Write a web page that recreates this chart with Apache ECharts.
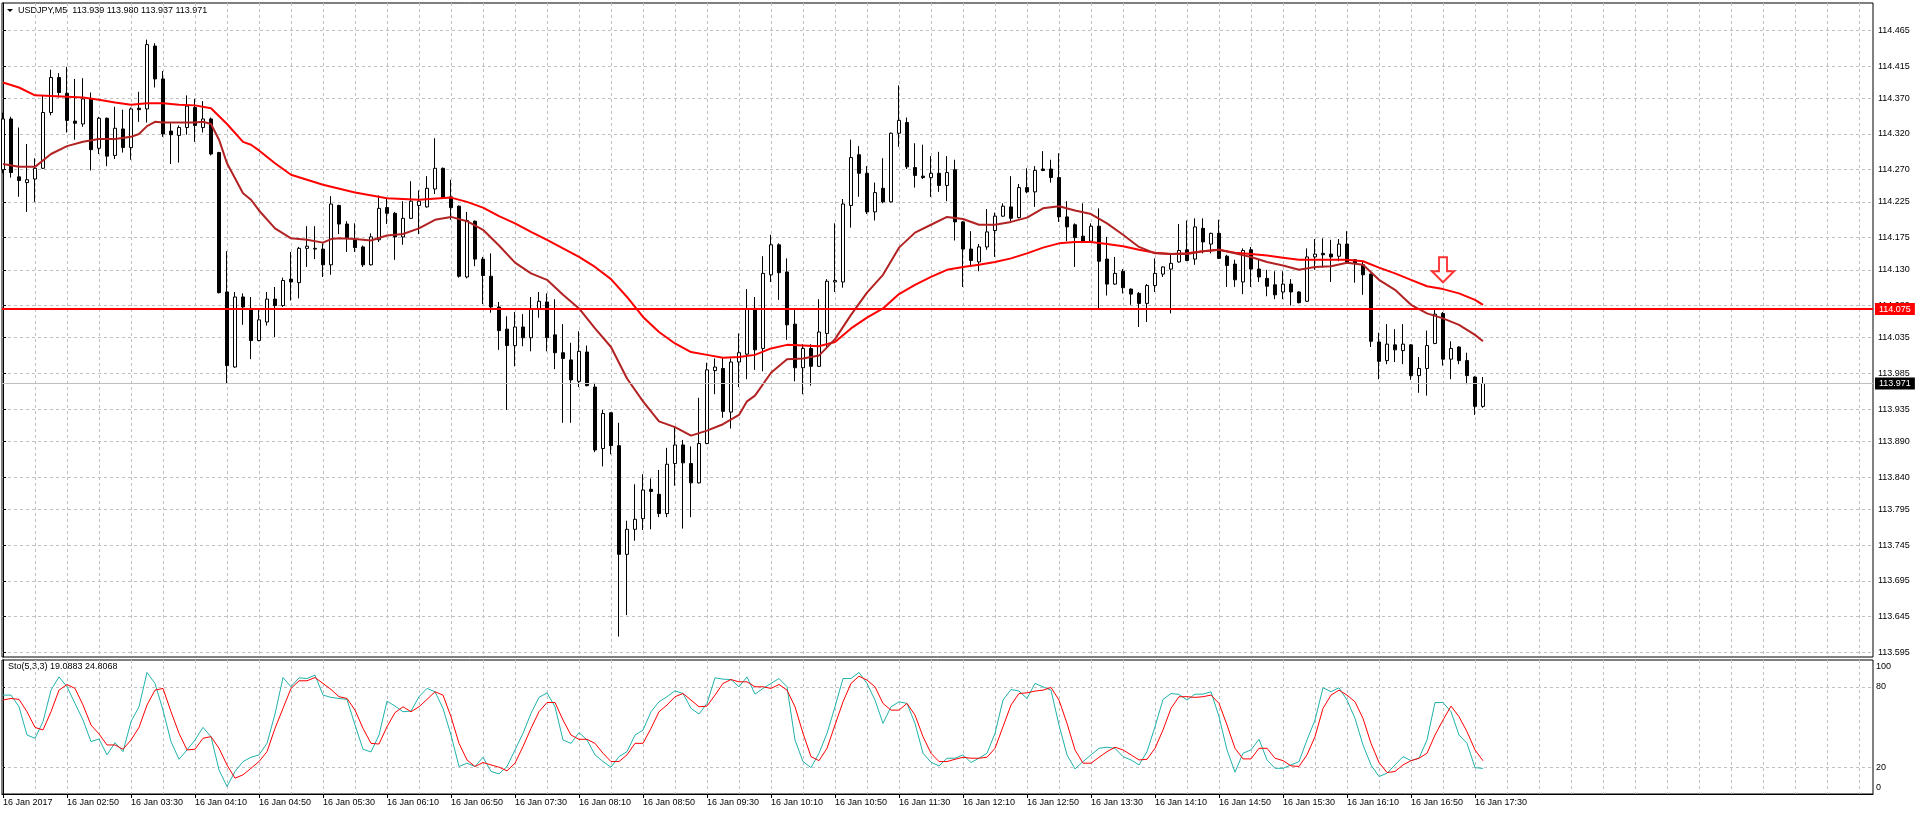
<!DOCTYPE html>
<html>
<head>
<meta charset="utf-8">
<title>USDJPY,M5</title>
<script src="https://cdn.jsdelivr.net/npm/echarts@6/dist/echarts.min.js"></script>
<style>
  html, body { margin: 0; padding: 0; background: #fff; }
  #chart { width: 1916px; height: 815px; }
</style>
</head>
<body>
<div id="chart"></div>
<script>
// bar 0 = 16 Jan 02:10, one bar every 5 minutes (M5)
const openData = [
  114.270, 114.341, 114.260, 114.252, 114.257, 114.272, 114.350, 114.399, 114.377, 114.338,
  114.334, 114.369, 114.300, 114.342, 114.290, 114.327, 114.301, 114.356, 114.355, 114.443,
  114.397, 114.324, 114.318, 114.329, 114.357, 114.329, 114.341, 114.294, 114.099, 113.994,
  114.092, 114.076, 114.031, 114.057, 114.089, 114.080, 114.117, 114.112, 114.160, 114.159,
  114.159, 114.137, 114.220, 114.194, 114.172, 114.162, 114.137, 114.172, 114.217, 114.209,
  114.176, 114.202, 114.220, 114.218, 114.243, 114.272, 114.232, 114.219, 114.120, 114.198,
  114.145, 114.121, 114.078, 114.047, 114.024, 114.050, 114.035, 114.075, 114.085, 114.039,
  114.014, 114.004, 113.974, 114.015, 113.966, 113.880, 113.930, 113.884, 113.732, 113.767,
  113.782, 113.823, 113.816, 113.789, 113.859, 113.885, 113.859, 113.832, 113.887, 113.989,
  113.992, 113.931, 114.001, 114.012, 114.076, 114.020, 114.123, 114.165, 114.127, 114.054,
  113.993, 114.020, 113.995, 114.041, 114.113, 114.113, 114.220, 114.291, 114.265, 114.211,
  114.244, 114.225, 114.321, 114.336, 114.273, 114.261, 114.259, 114.265, 114.248, 114.270,
  114.197, 114.159, 114.141, 114.162, 114.185, 114.205, 114.218, 114.203, 114.245, 114.239,
  114.271, 114.271, 114.259, 114.204, 114.193, 114.177, 114.170, 114.191, 114.145, 114.110,
  114.128, 114.103, 114.097, 114.083, 114.108, 114.124, 114.131, 114.141, 114.158, 114.145,
  114.188, 114.166, 114.181, 114.149, 114.138, 114.113, 114.158, 114.131, 114.118, 114.109,
  114.099, 114.110, 114.099, 114.086, 114.148, 114.153, 114.152, 114.149, 114.166, 114.144,
  114.137, 114.124, 114.029, 114.003, 114.025, 114.017, 114.025, 113.982, 113.992, 114.027,
  114.069, 114.005, 114.022, 114.003, 113.980, 113.939
]
const highData = [
  114.350, 114.344, 114.329, 114.306, 114.286, 114.373, 114.410, 114.405, 114.414, 114.397,
  114.398, 114.378, 114.344, 114.343, 114.358, 114.354, 114.357, 114.379, 114.452, 114.447,
  114.408, 114.335, 114.332, 114.374, 114.369, 114.366, 114.343, 114.295, 114.156, 114.099,
  114.097, 114.092, 114.074, 114.099, 114.106, 114.119, 114.155, 114.162, 114.191, 114.191,
  114.167, 114.233, 114.221, 114.198, 114.195, 114.164, 114.181, 114.234, 114.230, 114.211,
  114.226, 114.254, 114.241, 114.261, 114.314, 114.273, 114.256, 114.220, 114.211, 114.199,
  114.148, 114.153, 114.085, 114.065, 114.071, 114.068, 114.092, 114.099, 114.097, 114.089,
  114.054, 114.028, 114.044, 114.024, 113.972, 113.934, 113.931, 113.916, 113.779, 113.830,
  113.844, 113.838, 113.850, 113.881, 113.911, 113.892, 113.883, 113.951, 114.000, 114.006,
  114.008, 114.006, 114.041, 114.103, 114.092, 114.149, 114.179, 114.167, 114.146, 114.074,
  114.026, 114.026, 114.089, 114.117, 114.195, 114.229, 114.312, 114.303, 114.275, 114.252,
  114.286, 114.322, 114.388, 114.343, 114.307, 114.305, 114.289, 114.295, 114.289, 114.284,
  114.198, 114.184, 114.166, 114.215, 114.210, 114.223, 114.261, 114.250, 114.272, 114.275,
  114.296, 114.284, 114.293, 114.226, 114.195, 114.223, 114.195, 114.216, 114.176, 114.148,
  114.131, 114.104, 114.099, 114.110, 114.146, 114.135, 114.153, 114.194, 114.199, 114.202,
  114.202, 114.182, 114.200, 114.151, 114.144, 114.160, 114.162, 114.145, 114.130, 114.128,
  114.128, 114.117, 114.100, 114.160, 114.173, 114.174, 114.172, 114.173, 114.184, 114.145,
  114.141, 114.125, 114.042, 114.054, 114.047, 114.054, 114.026, 114.008, 114.045, 114.076,
  114.071, 114.030, 114.023, 114.014, 113.981, 113.980
]
const lowData = [
  114.265, 114.259, 114.232, 114.211, 114.225, 114.271, 114.346, 114.371, 114.322, 114.312,
  114.330, 114.269, 114.292, 114.275, 114.285, 114.294, 114.284, 114.337, 114.336, 114.385,
  114.316, 114.278, 114.280, 114.319, 114.309, 114.322, 114.290, 114.097, 113.971, 113.993,
  114.053, 114.005, 114.030, 114.052, 114.036, 114.078, 114.087, 114.090, 114.134, 114.145,
  114.120, 114.123, 114.180, 114.155, 114.155, 114.134, 114.136, 114.169, 114.194, 114.144,
  114.165, 114.201, 114.180, 114.217, 114.236, 114.231, 114.200, 114.119, 114.118, 114.135,
  114.082, 114.070, 114.018, 113.934, 113.995, 114.023, 114.016, 114.063, 114.016, 113.991,
  113.916, 113.916, 113.966, 113.967, 113.875, 113.855, 113.872, 113.617, 113.647, 113.751,
  113.766, 113.767, 113.784, 113.784, 113.828, 113.768, 113.784, 113.831, 113.886, 113.956,
  113.923, 113.908, 113.966, 113.977, 113.990, 113.988, 114.113, 114.088, 114.032, 113.974,
  113.956, 113.968, 113.994, 114.020, 114.099, 114.105, 114.189, 114.232, 114.208, 114.199,
  114.223, 114.224, 114.302, 114.271, 114.245, 114.257, 114.232, 114.239, 114.226, 114.171,
  114.106, 114.134, 114.128, 114.158, 114.148, 114.204, 114.198, 114.202, 114.237, 114.218,
  114.268, 114.252, 114.197, 114.170, 114.134, 114.169, 114.169, 114.075, 114.094, 114.109,
  114.097, 114.081, 114.050, 114.057, 114.099, 114.120, 114.069, 114.140, 114.142, 114.137,
  114.153, 114.153, 114.145, 114.106, 114.106, 114.096, 114.106, 114.113, 114.093, 114.089,
  114.089, 114.080, 114.083, 114.085, 114.130, 114.133, 114.113, 114.142, 114.139, 114.112,
  114.095, 114.022, 113.977, 113.998, 114.001, 113.998, 113.976, 113.958, 113.954, 114.026,
  113.996, 113.977, 113.998, 113.970, 113.927, 113.937
]
const closeData = [
  114.341, 114.266, 114.255, 114.256, 114.272, 114.350, 114.399, 114.378, 114.339, 114.335,
  114.369, 114.298, 114.342, 114.289, 114.328, 114.301, 114.355, 114.354, 114.445, 114.397,
  114.320, 114.319, 114.329, 114.359, 114.332, 114.341, 114.292, 114.098, 113.996, 114.092,
  114.078, 114.031, 114.060, 114.089, 114.080, 114.115, 114.113, 114.160, 114.163, 114.160,
  114.137, 114.222, 114.194, 114.175, 114.161, 114.137, 114.176, 114.216, 114.209, 114.176,
  114.202, 114.226, 114.226, 114.244, 114.272, 114.231, 114.217, 114.121, 114.199, 114.145,
  114.122, 114.078, 114.045, 114.024, 114.050, 114.035, 114.076, 114.086, 114.035, 114.014,
  114.006, 113.976, 114.016, 113.968, 113.878, 113.929, 113.884, 113.732, 113.767, 113.781,
  113.822, 113.820, 113.789, 113.858, 113.885, 113.860, 113.832, 113.887, 113.990, 113.994,
  113.932, 114.001, 114.014, 114.075, 114.018, 114.125, 114.165, 114.126, 114.053, 113.993,
  114.020, 113.995, 114.043, 114.114, 114.115, 114.222, 114.287, 114.265, 114.211, 114.238,
  114.225, 114.321, 114.339, 114.274, 114.262, 114.259, 114.265, 114.248, 114.266, 114.197,
  114.159, 114.143, 114.162, 114.183, 114.205, 114.219, 114.202, 114.245, 114.239, 114.269,
  114.269, 114.259, 114.204, 114.190, 114.175, 114.170, 114.191, 114.142, 114.110, 114.125,
  114.105, 114.096, 114.083, 114.108, 114.125, 114.134, 114.139, 114.157, 114.143, 114.190,
  114.169, 114.181, 114.146, 114.136, 114.116, 114.157, 114.131, 114.120, 114.107, 114.095,
  114.110, 114.099, 114.084, 114.148, 114.152, 114.151, 114.148, 114.166, 114.141, 114.139,
  114.123, 114.030, 114.002, 114.026, 114.018, 114.026, 113.982, 113.992, 114.024, 114.068,
  114.005, 114.020, 114.003, 113.982, 113.939, 113.971
]

// moving averages at these bar indexes
const slowMaIdx = [
  0, 2, 4, 6, 8, 10, 12, 14, 16, 18, 20, 22, 24, 26, 28, 30, 31, 32, 34, 36, 40, 44, 48, 52, 56,
  58, 60, 62, 64, 66, 68, 70, 72, 74, 76, 78, 80, 82, 84, 86, 88, 90, 92, 94, 96, 98, 100, 102,
  104, 106, 108, 110, 112, 114, 116, 118, 120, 122, 124, 126, 128, 130, 132, 134, 136, 138, 140,
  142, 144, 146, 148, 150, 152, 154, 156, 158, 160, 162, 164, 166, 168, 170, 172, 174, 176, 178,
  180, 182, 184, 185
]
const slowMa = [
  114.392, 114.385, 114.374, 114.373, 114.372, 114.371, 114.368, 114.364, 114.361, 114.363,
  114.363, 114.361, 114.360, 114.356, 114.334, 114.309, 114.305, 114.297, 114.279, 114.263,
  114.249, 114.238, 114.230, 114.228, 114.231,
  114.225, 114.217, 114.205, 114.195, 114.183, 114.172, 114.160, 114.148, 114.134, 114.117,
  114.092, 114.064, 114.043, 114.027, 114.015, 114.011, 114.007, 114.008, 114.011, 114.020,
  114.025, 114.024, 114.023, 114.029, 114.048, 114.063, 114.076, 114.096, 114.109, 114.120,
  114.130, 114.134, 114.137, 114.141, 114.146, 114.153, 114.161, 114.167, 114.169, 114.169,
  114.166, 114.163, 114.158, 114.154, 114.152, 114.153, 114.156, 114.158, 114.154, 114.152,
  114.150, 114.147, 114.144, 114.144, 114.144, 114.144, 114.142, 114.133, 114.125, 114.116,
  114.107, 114.103, 114.097, 114.088, 114.081
]
const fastMaIdx = [
  0, 2, 4, 6, 8, 10, 12, 14, 16, 17, 18, 19, 20, 22, 24, 25, 26, 27, 28, 30, 31, 32, 34, 36, 38,
  40, 41, 42, 44, 46, 48, 50, 52, 54, 56, 58, 60, 62, 64, 66, 68, 70, 72, 74, 76, 78, 80, 82, 84,
  86, 88, 90, 92, 93, 94, 96, 98, 100, 102, 104, 106, 108, 110, 112, 114, 116, 118, 120, 122,
  124, 126, 128, 130, 132, 134, 136, 138, 140, 142, 144, 146, 148, 150, 152, 154, 156, 158, 160,
  162, 164, 166, 168, 170, 172, 174, 176, 178, 180, 182, 184, 185
]
const fastMa = [
  114.278, 114.274, 114.274, 114.292, 114.303, 114.309, 114.313, 114.313, 114.316, 114.320,
  114.331, 114.337, 114.336, 114.336, 114.336, 114.337, 114.334, 114.312, 114.279, 114.237,
  114.228, 114.213, 114.188, 114.174, 114.172, 114.168, 114.173, 114.174, 114.173, 114.171,
  114.178, 114.180, 114.188, 114.200, 114.204, 114.198, 114.186, 114.164, 114.140, 114.125,
  114.116, 114.095, 114.076, 114.048, 114.022, 113.978, 113.946, 113.918, 113.910, 113.898,
  113.905, 113.914, 113.927, 113.946, 113.954, 113.986, 114.005, 114.006, 114.010, 114.033,
  114.067, 114.098, 114.123, 114.161, 114.182, 114.193, 114.204, 114.201, 114.193, 114.193,
  114.197, 114.203, 114.216, 114.219, 114.213, 114.208, 114.195, 114.179, 114.162, 114.153,
  114.152, 114.152, 114.156, 114.158, 114.153, 114.148, 114.141, 114.136, 114.130, 114.134,
  114.135, 114.140, 114.137, 114.116, 114.102, 114.081, 114.069, 114.062, 114.053, 114.039,
  114.030
]

// Sto(5,3,3): main (%K) and signal (%D), one value per bar
const stochK = [
  73.8, 73.8, 65.1, 44.0, 41.6, 54.0, 77.5, 87.4, 80.0, 67.6, 55.2, 39.1, 41.1, 29.2, 38.3, 31.6,
  54.0, 65.1, 90.7, 82.5, 62.6, 39.1, 25.9, 32.9, 40.3, 49.7, 42.8, 18.0, 5.6, 16.8, 24.2, 27.4,
  29.2, 37.8, 59.7, 86.9, 80.0, 86.7, 86.2, 88.7, 73.8, 72.1, 71.3, 70.6, 51.5, 33.4, 31.4, 44.0,
  69.3, 65.6, 61.4, 61.9, 72.6, 78.8, 76.3, 63.9, 44.0, 20.5, 23.0, 20.5, 27.4, 16.8, 15.0, 20.5,
  32.9, 45.3, 60.2, 72.1, 75.5, 65.1, 40.3, 37.8, 45.8, 40.3, 29.2, 24.2, 20.0, 27.9, 31.6, 44.0,
  47.7, 61.4, 68.8, 72.6, 77.0, 75.0, 63.9, 59.7, 67.6, 86.7, 85.7, 85.4, 80.0, 87.4, 74.5, 78.8,
  82.5, 86.2, 80.0, 40.3, 24.2, 19.7, 30.4, 45.3, 65.1, 86.2, 86.2, 90.7, 82.5, 70.1, 52.7, 65.1,
  68.8, 67.6, 52.7, 30.4, 23.7, 21.0, 26.7, 26.7, 29.2, 23.5, 26.7, 30.4, 45.3, 70.1, 78.0, 76.8,
  71.3, 82.5, 80.0, 77.5, 51.5, 29.2, 18.7, 24.2, 29.2, 34.1, 34.9, 34.1, 27.9, 25.4, 21.7, 31.6,
  50.2, 70.6, 75.0, 74.3, 70.1, 74.5, 74.5, 76.3, 57.7, 32.9, 16.3, 30.4, 32.9, 40.8, 25.4, 19.2,
  19.2, 21.7, 24.2, 40.3, 55.2, 79.3, 76.3, 79.3, 70.1, 56.4, 36.6, 21.7, 13.0, 15.5, 21.7, 27.9,
  24.9, 26.7, 40.3, 68.3, 68.3, 61.4, 44.0, 37.8, 19.7, 19.0883
]
const stochD = [
  70.1, 71.3, 70.6, 61.4, 49.7, 47.8, 61.4, 77.5, 81.7, 78.8, 66.4, 51.5, 44.8, 36.6, 36.6, 33.4,
  40.3, 49.7, 66.4, 77.5, 78.8, 61.4, 45.3, 32.9, 33.4, 41.6, 42.8, 34.1, 21.7, 11.8, 14.3, 19.2,
  24.2, 31.6, 49.0, 63.9, 78.8, 84.5, 84.5, 86.9, 82.5, 78.0, 72.6, 71.3, 62.6, 49.0, 37.8, 37.3,
  50.2, 60.7, 65.1, 61.4, 65.1, 70.6, 76.3, 73.8, 57.7, 37.8, 25.4, 20.5, 23.5, 21.7, 20.0, 17.3,
  23.0, 35.4, 49.0, 61.4, 68.3, 68.3, 55.2, 44.0, 40.8, 40.8, 37.8, 30.4, 24.2, 24.2, 29.2, 37.8,
  37.8, 49.0, 61.4, 66.4, 72.6, 75.0, 70.1, 65.1, 65.6, 73.8, 82.5, 85.4, 83.7, 83.7, 80.0, 80.0,
  78.8, 81.7, 77.5, 65.1, 45.3, 27.9, 24.9, 34.1, 51.5, 68.8, 82.5, 87.9, 85.0, 80.0, 67.6, 62.6,
  62.6, 67.6, 58.9, 42.8, 30.4, 24.2, 24.2, 25.9, 27.4, 26.7, 26.7, 27.4, 34.1, 50.2, 66.4, 75.0,
  75.5, 76.8, 77.5, 79.5, 70.1, 52.7, 32.9, 23.0, 23.0, 27.4, 31.6, 34.9, 32.9, 29.2, 25.4, 25.9,
  34.1, 47.8, 63.9, 72.6, 72.6, 72.1, 72.6, 73.8, 67.6, 51.5, 34.1, 26.2, 26.2, 34.1, 34.1, 26.7,
  24.9, 21.0, 20.5, 29.2, 42.8, 63.9, 73.8, 77.5, 73.8, 68.8, 56.4, 37.8, 23.5, 16.0, 16.8, 21.7,
  24.9, 26.7, 30.4, 44.0, 55.2, 65.6, 57.7, 46.5, 32.9, 24.8068
]

// horizontal level, bid line and the signal arrow
const levelPrice = 114.075
const bidPrice = 113.971
const arrowIdx = [180]
const arrowPrice = [114.130]

// axis ticks
const priceTicks = [
  113.595, 113.645, 113.695, 113.745, 113.795, 113.840, 113.890, 113.935, 113.985, 114.035,
  114.080, 114.130, 114.175, 114.225, 114.270, 114.320, 114.370, 114.415, 114.465
]
const stochLevels = [20, 80]
// the terminal prints 0 and 100 just inside the panel edges
const stochLabelPos = [4.5, 20, 80, 95.5]
const stochLabels = ['0', '20', '80', '100']
const labelIdx = [0, 8, 16, 24, 32, 40, 48, 56, 64, 72, 80, 88, 96, 104, 112, 120, 128, 136, 144, 152, 160, 168, 176, 184]
const timeLabels = [
  '16 Jan 2017', '16 Jan 02:50', '16 Jan 03:30', '16 Jan 04:10', '16 Jan 04:50', '16 Jan 05:30',
  '16 Jan 06:10', '16 Jan 06:50', '16 Jan 07:30', '16 Jan 08:10', '16 Jan 08:50', '16 Jan 09:30',
  '16 Jan 10:10', '16 Jan 10:50', '16 Jan 11:30', '16 Jan 12:10', '16 Jan 12:50', '16 Jan 13:30',
  '16 Jan 14:10', '16 Jan 14:50', '16 Jan 15:30', '16 Jan 16:10', '16 Jan 16:50', '16 Jan 17:30'
]

const FONT = '"Liberation Sans", Arial, sans-serif'
const X_MIN = -0.125
const X_MAX = 233.75
const Y_MIN = 113.5884
const Y_MAX = 114.5032
// vertical grid every 4 bars
const gridIdx = Array.from({ length: 58 }, (_, k) => (k + 1) * 4)

const gridDash = { color: '#c0c0c0', type: [3, 3], width: 1 }
const pairs = (idx, vals) => idx.map((x, k) => [x, vals[k]])
const candleData = openData.map((o, i) => [i, o, closeData[i], lowData[i], highData[i]])
const barIdx = closeData.map((_, i) => i)
const last = closeData.length - 1

var myChart = echarts.init(document.getElementById('chart'), null, { renderer: 'canvas' })

const hiddenX = (gridIndex, position) => ({
    gridIndex: gridIndex,
    type: 'value',
    position: position,
    min: X_MIN,
    max: X_MAX,
    axisLine: { show: false },
    axisTick: { show: false, customValues: gridIdx },
    axisLabel: { show: false },
    splitLine: { show: true, lineStyle: gridDash },
})

// price tag at the right end of a horizontal line
const tag = (bg, price) => ({
    show: true,
    position: 'end',
    distance: 2,
    formatter: () => price.toFixed(3),
    backgroundColor: bg,
    color: '#fff',
    padding: [2, 4, 1, 4],
    fontSize: 9,
    fontFamily: FONT,
})

var option = {
    animation: false,
    backgroundColor: '#fff',
    textStyle: { fontFamily: FONT },
    grid: [
        { left: 2, top: 3, width: 1871, height: 654, show: true, borderColor: '#000', borderWidth: 1 },
        { left: 2, top: 660, width: 1871, height: 134, show: true, borderColor: '#000', borderWidth: 1 },
    ],
    xAxis: [
        hiddenX(0, 'bottom'),
        hiddenX(1, 'top'),
        {
            gridIndex: 1,
            type: 'value',
            position: 'bottom',
            min: X_MIN,
            max: X_MAX,
            axisLine: { show: true, lineStyle: { color: '#000', width: 1 } },
            axisTick: { show: true, length: 4, customValues: labelIdx, lineStyle: { color: '#000' } },
            axisLabel: {
                show: true,
                customValues: labelIdx,
                formatter: v => timeLabels[labelIdx.indexOf(Math.round(v))] || '',
                align: 'left',
                margin: 4,
                fontSize: 9,
                color: '#000',
                fontFamily: FONT,
                showMinLabel: true,
                showMaxLabel: true,
            },
            splitLine: { show: false },
        },
    ],
    yAxis: [
        {
            gridIndex: 0,
            type: 'value',
            position: 'right',
            min: Y_MIN,
            max: Y_MAX,
            axisLine: { show: true, lineStyle: { color: '#000', width: 1 } },
            axisTick: { show: true, length: 3, customValues: priceTicks, lineStyle: { color: '#000' } },
            axisLabel: {
                customValues: priceTicks,
                formatter: v => v.toFixed(3),
                margin: 5,
                fontSize: 9,
                color: '#000',
                fontFamily: FONT,
                showMinLabel: true,
                showMaxLabel: true,
            },
            splitLine: { show: true, lineStyle: gridDash },
        },
        {
            gridIndex: 1,
            type: 'value',
            position: 'right',
            min: 0,
            max: 100,
            axisLine: { show: true, lineStyle: { color: '#000', width: 1 } },
            axisTick: { show: true, length: 2, customValues: stochLevels, lineStyle: { color: '#000' } },
            axisLabel: {
                customValues: stochLabelPos.slice(1),
                formatter: v => stochLabels[stochLabelPos.indexOf(v)] || '',
                margin: 3,
                fontSize: 9,
                color: '#000',
                fontFamily: FONT,
                showMinLabel: true,
                showMaxLabel: true,
            },
            splitLine: { show: true, lineStyle: gridDash },
        },
    ],
    series: [
        {
            name: 'USDJPY',
            type: 'candlestick',
            xAxisIndex: 0,
            yAxisIndex: 0,
            barWidth: 4,
            silent: true,
            itemStyle: {
                color: '#fff',
                color0: '#000',
                borderColor: '#000',
                borderColor0: '#000',
                borderWidth: 1,
            },
            data: candleData,
            markLine: {
                silent: true,
                precision: 3,
                symbol: ['none', 'none'],
                animation: false,
                data: [
                    {
                        yAxis: bidPrice,
                        lineStyle: { color: '#c0c0c0', width: 1, type: 'solid' },
                        label: tag('#000', bidPrice),
                    },
                ],
            },
        },
        {
            name: 'MA slow',
            type: 'line',
            xAxisIndex: 0,
            yAxisIndex: 0,
            symbol: 'none',
            silent: true,
            lineStyle: { color: '#ff0000', width: 2 },
            data: pairs(slowMaIdx, slowMa),
        },
        {
            name: 'MA fast',
            type: 'line',
            xAxisIndex: 0,
            yAxisIndex: 0,
            symbol: 'none',
            silent: true,
            lineStyle: { color: '#b22222', width: 2 },
            data: pairs(fastMaIdx, fastMa),
            markLine: {
                silent: true,
                precision: 3,
                symbol: ['none', 'none'],
                animation: false,
                data: [
                    {
                        yAxis: levelPrice,
                        lineStyle: { color: '#ff0000', width: 2, type: 'solid' },
                        label: tag('#ff0000', levelPrice),
                    },
                ],
            },
        },
        {
            name: 'signal',
            type: 'scatter',
            xAxisIndex: 0,
            yAxisIndex: 0,
            silent: true,
            symbol: 'path://M7,0 L15,0 L15,14 L22,14 L11,25 L0,14 L7,14 Z',
            symbolSize: [22, 25],
            itemStyle: { color: '#fff', borderColor: '#ff0000', borderWidth: 2 },
            data: pairs(arrowIdx, arrowPrice),
        },
        {
            name: 'Sto main',
            type: 'line',
            xAxisIndex: 1,
            yAxisIndex: 1,
            symbol: 'none',
            silent: true,
            lineStyle: { color: '#20b2aa', width: 1 },
            data: pairs(barIdx, stochK),
        },
        {
            name: 'Sto signal',
            type: 'line',
            xAxisIndex: 1,
            yAxisIndex: 1,
            symbol: 'none',
            silent: true,
            lineStyle: { color: '#ff0000', width: 1 },
            data: pairs(barIdx, stochD),
        },
    ],
    graphic: [
        { type: 'polygon', shape: { points: [[7, 9], [13, 9], [10, 12]] }, style: { fill: '#000' } },
        {
            type: 'text',
            left: 18,
            top: 6,
            style: {
                text: 'USDJPY,M5  ' + [openData[last], highData[last], lowData[last], closeData[last]].map(v => v.toFixed(3)).join(' '),
                font: '9px ' + FONT,
                fill: '#000',
            },
        },
        {
            type: 'text',
            left: 8,
            top: 662,
            style: {
                text: 'Sto(5,3,3) ' + stochK[last].toFixed(4) + ' ' + stochD[last].toFixed(4),
                font: '9px ' + FONT,
                fill: '#000',
            },
        },
        {
            // bottom label of the oscillator scale
            type: 'text',
            x: 1876,
            y: 783,
            z: 10,
            style: { text: stochLabels[0], font: '9px ' + FONT, fill: '#000' },
        },
    ],
}

myChart.setOption(option)
</script>
</body>
</html>
